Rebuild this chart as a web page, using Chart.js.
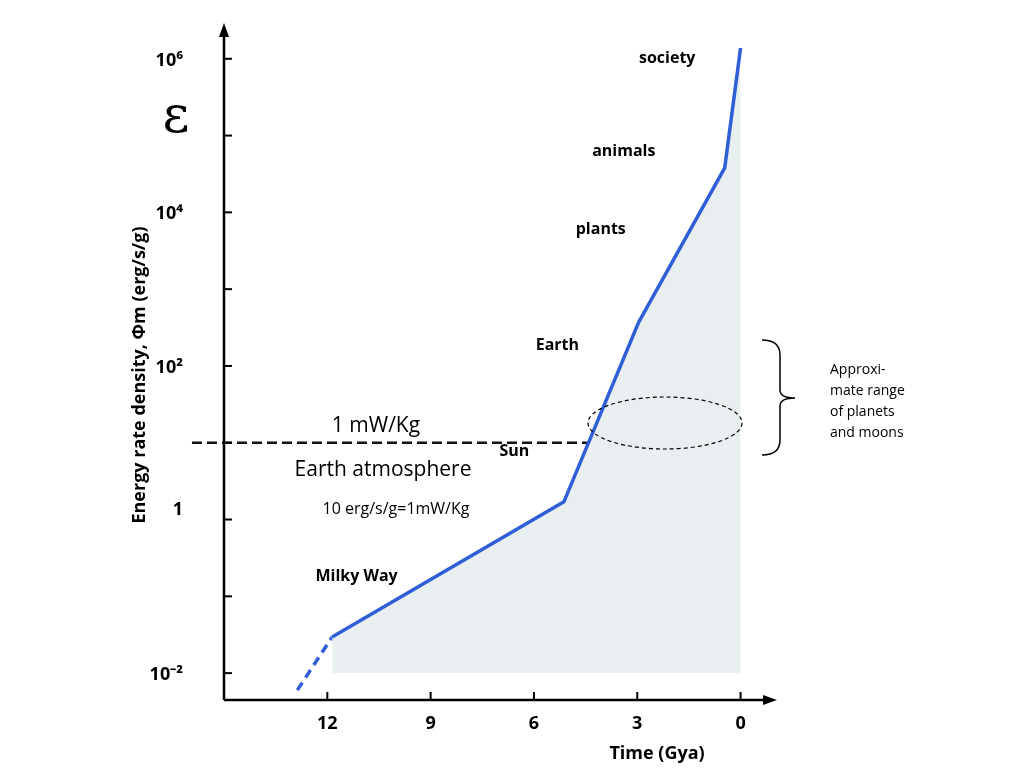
<!DOCTYPE html>
<html><head><meta charset="utf-8">
<script src="https://cdn.jsdelivr.net/npm/chart.js@4"></script>
<style>html,body{margin:0;background:#fff}#w{width:1024px;height:768px}</style>
</head><body><div id="w"><canvas id="c"></canvas></div>
<script>
const lineX = [11.86, 5.13, 2.96, 0.46, 0.0];
const lineY = [0.0295, 1.7, 370, 38000, 1380000];
const dashX = [12.87, 11.86];
const dashY = [0.006, 0.0295];
const refX = [15.93, 4.4];
const refY = [10, 10];
const xTicks = [12, 9, 6, 3, 0];
const yTickVals = [0.01, 0.1, 1, 10, 100, 1000, 10000, 100000, 1000000];
const yTickLabels = {0.01:'10⁻²', 1:'1', 100:'10²', 10000:'10⁴', 1000000:'10⁶'};
const stages = [
  ['society', 2.13, 1000000], ['animals', 3.39, 63000], ['plants', 4.06, 6000],
  ['Earth', 5.32, 186], ['Sun', 6.57, 7.6], ['Milky Way', 11.15, 0.18]
];
const pts = (xs, ys) => xs.map((x, i) => ({x, y: ys[i]}));

const deco = {
  id: 'deco',
  afterDraw(ch) {
    const c = ch.ctx, x = ch.scales.x, y = ch.scales.y;
    const L = x.getPixelForValue(15), B = y.getPixelForValue(Math.pow(10,-2.35));
    const R = x.getPixelForValue(-1), T = y.getPixelForValue(Math.pow(10,6.44));
    c.save();
    c.strokeStyle = '#000'; c.fillStyle = '#000'; c.lineWidth = 2.5;
    c.beginPath(); c.moveTo(L, B); c.lineTo(L, T + 6); c.moveTo(L, B); c.lineTo(R - 6, B); c.stroke();
    c.beginPath(); c.moveTo(L, T - 2); c.lineTo(L - 5, T + 12); c.lineTo(L + 5, T + 12); c.closePath(); c.fill();
    c.beginPath(); c.moveTo(R + 2, B); c.lineTo(R - 12, B - 5); c.lineTo(R - 12, B + 5); c.closePath(); c.fill();
    c.lineWidth = 2;
    c.font = 'bold 18px "Open Sans"'; c.textAlign = 'right'; c.textBaseline = 'middle';
    yTickVals.forEach(v => {
      const p = y.getPixelForValue(v);
      c.beginPath(); c.moveTo(L, p); c.lineTo(L + 8, p); c.stroke();
      if (yTickLabels[v]) c.fillText(yTickLabels[v], 183, p + (v === 1 ? -10 : 2));
    });
    c.textAlign = 'center'; c.textBaseline = 'top';
    xTicks.forEach(v => {
      const p = x.getPixelForValue(v);
      c.beginPath(); c.moveTo(p, B); c.lineTo(p, B - 8); c.stroke();
      c.fillText(String(v), p, 715);
    });
    c.fillText('Time (Gya)', 657, 745);
    c.save(); c.translate(140, 375); c.rotate(-Math.PI / 2);
    c.textBaseline = 'middle'; c.fillText('Energy rate density, Φm (erg/s/g)', 0, 0); c.restore();
    c.font = '52px "DejaVu Serif"'; c.fillText('ε', 176, 92);
    c.font = 'bold 16px "Open Sans"'; c.textBaseline = 'middle';
    stages.forEach(s => c.fillText(s[0], x.getPixelForValue(s[1]), y.getPixelForValue(s[2])));
    c.font = '21px "Open Sans"';
    c.fillText('1 mW/Kg', 376, 426); c.fillText('Earth atmosphere', 383, 470);
    c.font = '16px "Open Sans"'; c.fillText('10 erg/s/g=1mW/Kg', 396, 509);
    c.font = '14px "Open Sans"'; c.textAlign = 'left';
    ['Approxi-', 'mate range', 'of planets', 'and moons'].forEach((t, i) => c.fillText(t, 830, 370 + i * 21));
    c.setLineDash([4, 3]); c.lineWidth = 1.2;
    c.beginPath(); c.ellipse(665, 423, 77, 26, 0, 0, 2 * Math.PI); c.stroke();
    c.setLineDash([]); c.lineWidth = 1.5;
    c.beginPath(); c.moveTo(762, 340); c.quadraticCurveTo(780, 340, 780, 355);
    c.lineTo(780, 390); c.quadraticCurveTo(780, 398, 795, 398); c.quadraticCurveTo(780, 398, 780, 406);
    c.lineTo(780, 440); c.quadraticCurveTo(780, 455, 762, 455); c.stroke();
    c.restore();
  }
};

new Chart(document.getElementById('c'), {
  type: 'line',
  data: { datasets: [
    { data: pts(lineX, lineY), borderColor: '#2f5fd6', borderWidth: 3.5, pointRadius: 0,
      fill: {value: 0.01}, backgroundColor: '#e9eff1', tension: 0 },
    { data: pts(dashX, dashY), borderColor: '#2f5fd6', borderWidth: 3.5, pointRadius: 0,
      borderDash: [9, 6], fill: false },
    { data: pts(refX, refY), borderColor: '#111', borderWidth: 2.5, pointRadius: 0,
      borderDash: [10, 5], fill: false }
  ]},
  options: {
    responsive: true, maintainAspectRatio: false, animation: false,
    layout: { padding: { top: 25, right: 249, left: 0, bottom: 0 } },
    plugins: { legend: { display: false }, tooltip: { enabled: false } },
    datasets: { line: { clip: false } },
    scales: {
      x: { type: 'linear', reverse: true, min: -1, max: 15,
        grid: { display: false }, border: { display: false }, ticks: { display: false },
        afterFit: s => { s.height = 68; } },
      y: { type: 'logarithmic', min: Math.pow(10, -2.35), max: Math.pow(10, 6.44),
        grid: { display: false }, border: { display: false }, ticks: { display: false },
        afterFit: s => { s.width = 224; } }
    }
  },
  plugins: [deco]
});
</script></body></html>
